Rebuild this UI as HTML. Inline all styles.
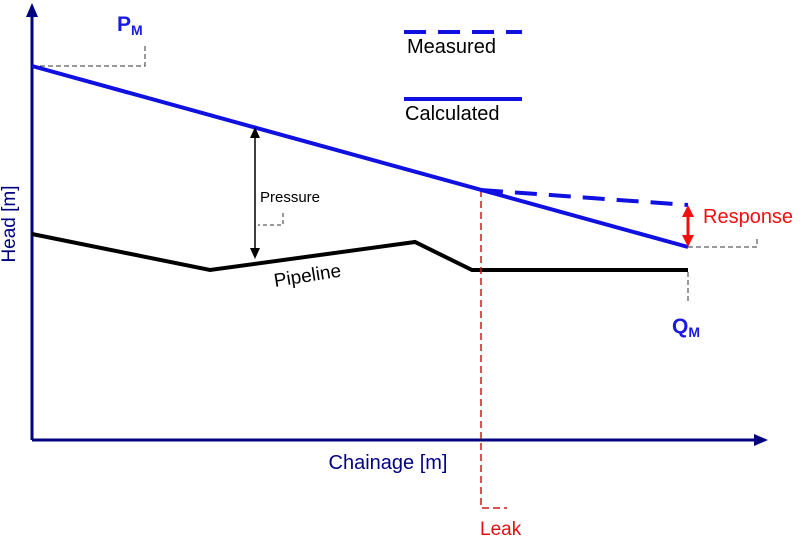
<!DOCTYPE html>
<html><head><style>body{margin:0;background:#fff}svg{display:block}text{font-family:"Liberation Sans",Arial,sans-serif}</style></head>
<body>
<svg width="810" height="542" viewBox="0 0 810 542" xmlns="http://www.w3.org/2000/svg">
<line x1="32" y1="440" x2="32" y2="14" stroke="#000080" stroke-width="3"/>
<polygon points="32,3 26,17 38,17" fill="#000080"/>
<line x1="32" y1="440" x2="756" y2="440" stroke="#000080" stroke-width="3"/>
<polygon points="768,440 754,434 754,446" fill="#000080"/>
<text x="15" y="224" font-size="19" fill="#000080" text-anchor="middle" transform="rotate(-90 15 224)">Head [m]</text>
<text x="388" y="469" font-size="20" fill="#000080" text-anchor="middle">Chainage [m]</text>
<polyline points="32,66 145,66 145,43" fill="none" stroke="#333" stroke-width="1" stroke-dasharray="5,3"/>
<text x="117" y="31" font-size="21" font-weight="bold" fill="#1a1ae6">P<tspan font-size="14" dy="4">M</tspan></text>
<polyline points="32,234 210,270 415,242 472,270 688,270" fill="none" stroke="#000" stroke-width="4"/>
<text x="275" y="287" font-size="19" fill="#000" transform="rotate(-9 275 287)">Pipeline</text>
<polyline points="481,190 481,508 507,508" fill="none" stroke="#d01818" stroke-width="1.5" stroke-dasharray="7,4"/>
<text x="480" y="535" font-size="19" fill="#e01010">Leak</text>
<line x1="32" y1="66" x2="688" y2="247" stroke="#1010e0" stroke-width="4"/>
<line x1="481" y1="190" x2="688" y2="205" stroke="#1010e0" stroke-width="4" stroke-dasharray="22,12"/>
<line x1="255" y1="136" x2="255" y2="250" stroke="#000" stroke-width="1.5"/>
<polygon points="255,127 250,138 260,138" fill="#000"/>
<polygon points="255,259 250,248 260,248" fill="#000"/>
<text x="260" y="202" font-size="15" fill="#000">Pressure</text>
<polyline points="283,213 283,225 258,225" fill="none" stroke="#333" stroke-width="1" stroke-dasharray="4,3"/>
<line x1="688" y1="214" x2="688" y2="238" stroke="#f01010" stroke-width="3"/>
<polygon points="688,205 682,217 694,217" fill="#f01010"/>
<polygon points="688,247 682,235 694,235" fill="#f01010"/>
<text x="703" y="223" font-size="20" fill="#f01010">Response</text>
<polyline points="688,247 757,247 757,237" fill="none" stroke="#333" stroke-width="1" stroke-dasharray="5,3"/>
<line x1="688" y1="272" x2="688" y2="304" stroke="#333" stroke-width="1" stroke-dasharray="5,3"/>
<text x="672" y="333" font-size="21" font-weight="bold" fill="#1a1ae6">Q<tspan font-size="14" dy="4">M</tspan></text>
<line x1="404" y1="32" x2="522" y2="32" stroke="#1010e0" stroke-width="4" stroke-dasharray="22,12"/>
<text x="407" y="53" font-size="20" fill="#000">Measured</text>
<line x1="404" y1="99" x2="522" y2="99" stroke="#1010e0" stroke-width="4"/>
<text x="405" y="120" font-size="20" fill="#000">Calculated</text>
</svg>
</body></html>
